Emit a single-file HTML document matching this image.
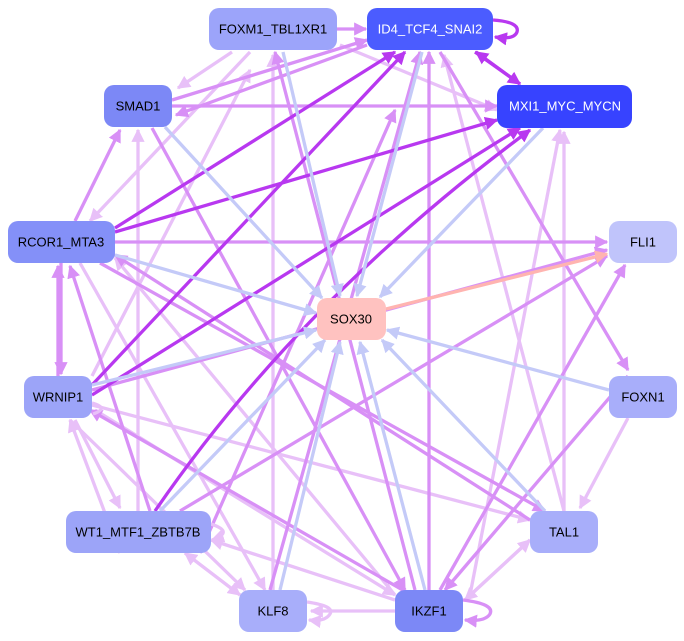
<!DOCTYPE html>
<html><head><meta charset="utf-8"><style>
html,body{margin:0;padding:0;background:#fff;width:684px;height:641px;overflow:hidden}
svg text{font-family:"Liberation Sans",sans-serif;font-size:13px;text-anchor:middle;dominant-baseline:central}
</style></head><body>
<svg width="684" height="641" viewBox="0 0 684 641">
<defs>
<marker id="a1" viewBox="0 0 10 10" refX="9" refY="5" markerWidth="4" markerHeight="4" orient="auto"><path d="M0,0L10,5L0,10z" fill="#e8c0f8"/></marker>
<marker id="a2" viewBox="0 0 10 10" refX="9" refY="5" markerWidth="4" markerHeight="4" orient="auto"><path d="M0,0L10,5L0,10z" fill="#d890f6"/></marker>
<marker id="a3" viewBox="0 0 10 10" refX="9" refY="5" markerWidth="4" markerHeight="4" orient="auto"><path d="M0,0L10,5L0,10z" fill="#b838f0"/></marker>
<marker id="a4" viewBox="0 0 10 10" refX="9" refY="5" markerWidth="4" markerHeight="4" orient="auto"><path d="M0,0L10,5L0,10z" fill="#c4caf8"/></marker>
<marker id="a5" viewBox="0 0 10 10" refX="9" refY="5" markerWidth="4" markerHeight="4" orient="auto"><path d="M0,0L10,5L0,10z" fill="#ffb4b0"/></marker>
</defs>
<g fill="none" stroke-width="3.3">
<g stroke="#e8c0f8" marker-end="url(#a1)">
<line x1="232" y1="52" x2="178" y2="88"/>
<line x1="250" y1="52" x2="90" y2="221"/>
<line x1="92" y1="376" x2="250" y2="70"/>
<line x1="273" y1="590" x2="273" y2="55"/>
<line x1="138" y1="511" x2="138" y2="130"/>
<line x1="395" y1="595" x2="115" y2="258"/>
<line x1="340" y1="45" x2="497" y2="110"/>
<line x1="564" y1="511" x2="444" y2="55"/>
<line x1="564" y1="511" x2="564" y2="132"/>
<line x1="628" y1="418" x2="580" y2="508"/>
<line x1="470" y1="595" x2="560" y2="130"/>
<line x1="92" y1="405" x2="530" y2="520"/>
<line x1="395" y1="600" x2="211" y2="540"/>
<line x1="395" y1="611" x2="311" y2="611"/>
<line x1="530" y1="540" x2="465" y2="600"/>
<line x1="465" y1="600" x2="530" y2="540"/>
<line x1="80" y1="263" x2="265" y2="590"/>
<line x1="70" y1="420" x2="245" y2="590"/>
<line x1="120" y1="553" x2="70" y2="420"/>
<line x1="75" y1="420" x2="120" y2="508"/>
<line x1="185" y1="553" x2="240" y2="595"/>
<line x1="240" y1="595" x2="185" y2="553"/>
<line x1="95" y1="410" x2="395" y2="595"/>
</g>
<g stroke="#d890f6" marker-end="url(#a2)">
<line x1="337" y1="29" x2="366" y2="29"/>
<line x1="172" y1="106" x2="497" y2="106"/>
<line x1="172" y1="100" x2="367" y2="40"/>
<line x1="367" y1="45" x2="176" y2="115"/>
<line x1="152" y1="128" x2="405" y2="590"/>
<line x1="75" y1="221" x2="120" y2="130"/>
<line x1="115" y1="242" x2="607" y2="242"/>
<line x1="92" y1="390" x2="607" y2="250"/>
<line x1="180" y1="511" x2="607" y2="256"/>
<line x1="270" y1="590" x2="420" y2="52"/>
<line x1="429" y1="590" x2="429" y2="52"/>
<line x1="415" y1="590" x2="275" y2="52"/>
<line x1="440" y1="590" x2="625" y2="265"/>
<line x1="440" y1="52" x2="628" y2="370"/>
<line x1="61" y1="263" x2="61" y2="374"/>
<line x1="58" y1="376" x2="58" y2="266"/>
<line x1="150" y1="511" x2="70" y2="266"/>
<line x1="200" y1="553" x2="395" y2="110"/>
<line x1="530" y1="520" x2="115" y2="255"/>
<line x1="100" y1="263" x2="545" y2="511"/>
<line x1="420" y1="600" x2="90" y2="410"/>
<line x1="628" y1="376" x2="445" y2="590"/>
</g>
<g stroke="#b838f0" marker-end="url(#a3)">
<line x1="115" y1="228" x2="395" y2="52"/>
<line x1="115" y1="232" x2="497" y2="120"/>
<line x1="92" y1="385" x2="405" y2="52"/>
<line x1="92" y1="395" x2="520" y2="128"/>
<path d="M155,511 Q300,300 530,130"/>
<line x1="475" y1="52" x2="520" y2="84"/>
<line x1="520" y1="84" x2="476" y2="52"/>
<path d="M493,20 Q520,22 517,32 Q514,40 495,37"/>
</g>
<g stroke="#c4caf8" marker-end="url(#a4)">
<line x1="283" y1="52" x2="340" y2="296"/>
<line x1="165" y1="127" x2="322" y2="298"/>
<line x1="115" y1="255" x2="316" y2="313"/>
<line x1="92" y1="385" x2="316" y2="330"/>
<line x1="160" y1="511" x2="325" y2="340"/>
<line x1="280" y1="590" x2="340" y2="342"/>
<line x1="425" y1="590" x2="360" y2="342"/>
<line x1="545" y1="511" x2="382" y2="340"/>
<line x1="609" y1="390" x2="387" y2="330"/>
<line x1="543" y1="128" x2="380" y2="297"/>
<line x1="422" y1="52" x2="357" y2="296"/>
</g>
<line x1="386" y1="309" x2="607" y2="254" stroke="#ffb4b0" marker-end="url(#a5)"/>
<path d="M463,600 Q495,604 490,614 Q485,622 465,620" stroke="#d890f6" marker-end="url(#a2)"/>
<path d="M307,602 Q335,606 330,614 Q325,622 309,620" stroke="#e8c0f8" marker-end="url(#a1)"/>
<path d="M92,403 Q110,408 93,414" stroke="#e8c0f8"/>
<path d="M211,524 Q235,532 212,540" stroke="#e8c0f8" marker-end="url(#a1)"/>
</g>
<g font-size="13">
<rect x="209" y="8" width="128" height="42" rx="10" fill="#9ca4fa"/><text x="273" y="29">FOXM1_TBL1XR1</text>
<rect x="367" y="8" width="126" height="42" rx="10" fill="#4b5cff"/><text x="430" y="29" fill="#fff">ID4_TCF4_SNAI2</text>
<rect x="497" y="85" width="135" height="43" rx="10" fill="#3743ff"/><text x="565" y="106" fill="#fff">MXI1_MYC_MYCN</text>
<rect x="104" y="85" width="68" height="42" rx="10" fill="#7c88f6"/><text x="138" y="106">SMAD1</text>
<rect x="8" y="221" width="107" height="42" rx="10" fill="#8490f8"/><text x="61" y="242">RCOR1_MTA3</text>
<rect x="609" y="221" width="68" height="42" rx="10" fill="#c0c4fb"/><text x="643" y="242">FLI1</text>
<rect x="317" y="298" width="69" height="42" rx="10" fill="#ffc2c0"/><text x="351" y="319">SOX30</text>
<rect x="24" y="376" width="68" height="42" rx="10" fill="#9ca4f8"/><text x="58" y="397">WRNIP1</text>
<rect x="609" y="376" width="68" height="42" rx="10" fill="#a8aefa"/><text x="643" y="397">FOXN1</text>
<rect x="66" y="511" width="145" height="42" rx="10" fill="#9ca4f8"/><text x="138" y="532">WT1_MTF1_ZBTB7B</text>
<rect x="530" y="511" width="68" height="42" rx="10" fill="#a8aefa"/><text x="564" y="532">TAL1</text>
<rect x="239" y="590" width="68" height="42" rx="10" fill="#a8aefa"/><text x="273" y="611">KLF8</text>
<rect x="395" y="590" width="68" height="42" rx="10" fill="#7c88f6"/><text x="429" y="611">IKZF1</text>
</g>
</svg>
</body></html>
